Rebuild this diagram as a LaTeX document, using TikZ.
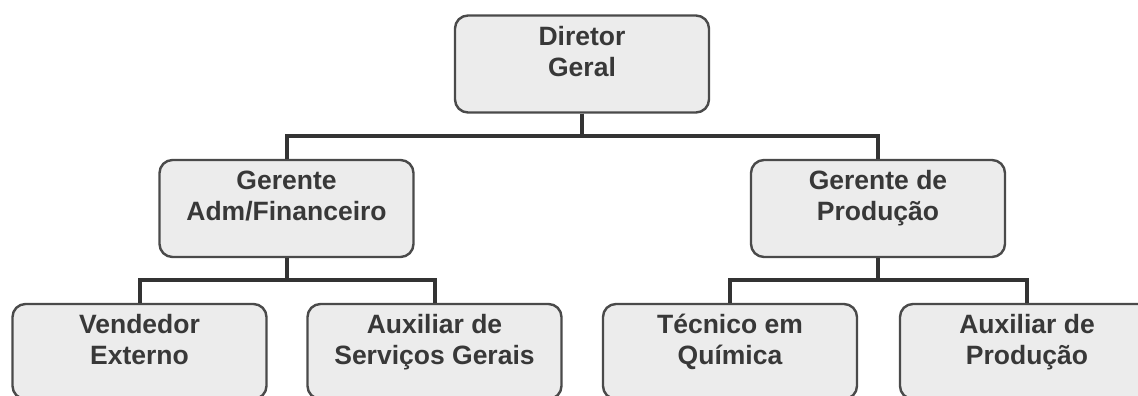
\documentclass[tikz,border=0pt]{standalone}
\usepackage{fontspec}
\setmainfont{Liberation Sans}
\begin{document}
\begin{tikzpicture}[x=1pt,y=-1pt,
  box/.style={draw=boxline, line width=2.4pt, fill=boxfill, rounded corners=13pt,
    minimum width=254pt, minimum height=97pt, inner sep=0pt},
  lbl/.style={anchor=north, inner sep=0pt, align=center, text=txt,
    font=\bfseries\fontsize{26.5}{31}\selectfont, yshift=-11.5pt},
  conn/.style={draw=linec, line width=4pt, line join=miter}
]
\definecolor{boxline}{HTML}{4A4A4A}
\definecolor{boxfill}{HTML}{ECECEC}
\definecolor{txt}{HTML}{383838}
\definecolor{linec}{HTML}{333333}
\useasboundingbox (0,0) rectangle (1138,396);
\clip (0,0) rectangle (1138,396);
\node[box, label={[lbl]north:{Diretor\\Geral}}] (dg) at (582,64) {};
\node[box, label={[lbl]north:{Gerente\\Adm/Financeiro}}] (ga) at (286.5,208.5) {};
\node[box, label={[lbl]north:{Gerente de\\Produção}}] (gp) at (878,208.5) {};
\node[box, minimum height=95pt, label={[lbl]north:{Vendedor\\Externo}}] (ve) at (139.5,351.5) {};
\node[box, minimum height=95pt, label={[lbl]north:{Auxiliar de\\Serviços Gerais}}] (as) at (434.5,351.5) {};
\node[box, minimum height=95pt, label={[lbl]north:{Técnico em\\Química}}] (tq) at (730,351.5) {};
\node[box, minimum height=95pt, label={[lbl]north:{Auxiliar de\\Produção}}] (ap) at (1027,351.5) {};
\path[conn] (dg.south) -- ++(0,22) -| (ga.north);
\path[conn] (dg.south) -- ++(0,22) -| (gp.north);
\path[conn] (ga.south) -- ++(0,22) -| (ve.north);
\path[conn] (ga.south) -- ++(0,22) -| (as.north);
\path[conn] (gp.south) -- ++(0,22) -| (tq.north);
\path[conn] (gp.south) -- ++(0,22) -| (ap.north);
\end{tikzpicture}
\end{document}
